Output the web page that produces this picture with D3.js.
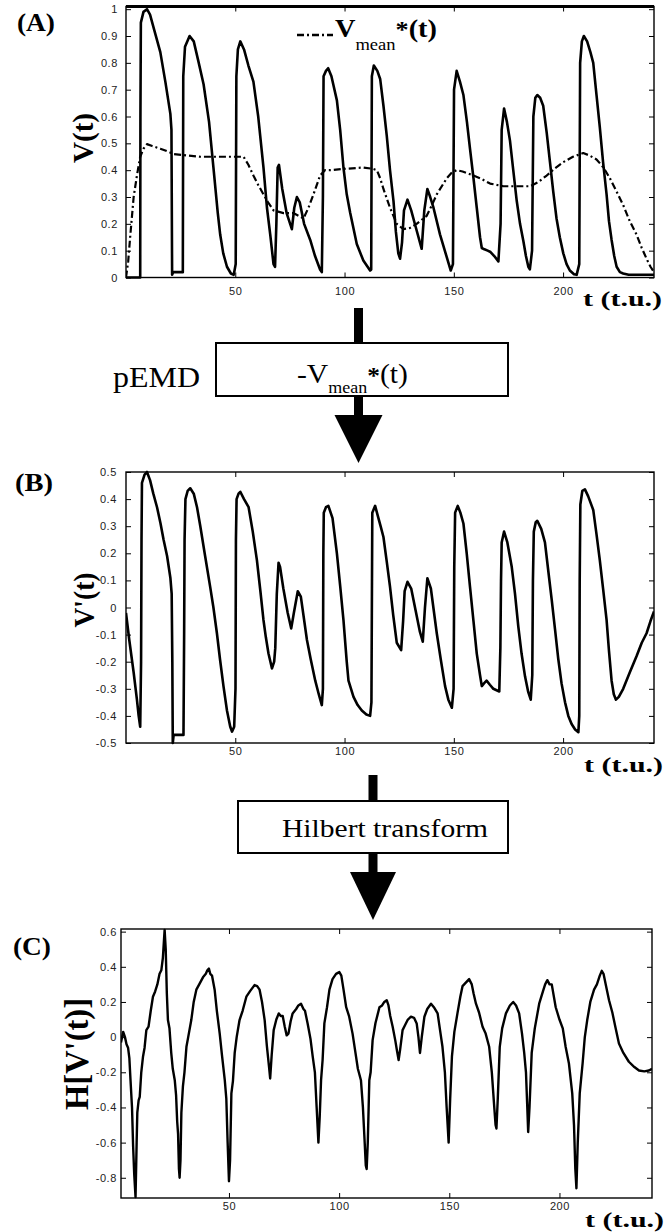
<!DOCTYPE html>
<html><head><meta charset="utf-8">
<script src="https://cdn.jsdelivr.net/npm/d3@7"></script>
<style>body{margin:0;background:#fff}svg{display:block}</style>
</head><body>
<svg id="c" width="672" height="1232"></svg>
<script>
// ---------- DATA ----------
const xTicks = [50, 100, 150, 200];
const xTickLabels = ["50", "100", "150", "200"];

const yTicksA = [0, 0.1, 0.2, 0.3, 0.4, 0.5, 0.6, 0.7, 0.8, 0.9, 1];
const yTickLabelsA = ["0", "0.1", "0.2", "0.3", "0.4", "0.5", "0.6", "0.7", "0.8", "0.9", "1"];
const yTicksB = [-0.5, -0.4, -0.3, -0.2, -0.1, 0, 0.1, 0.2, 0.3, 0.4, 0.5];
const yTickLabelsB = ["-0.5", "-0.4", "-0.3", "-0.2", "-0.1", "0", "0.1", "0.2", "0.3", "0.4", "0.5"];
const yTicksC = [-0.8, -0.6, -0.4, -0.2, 0, 0.2, 0.4, 0.6];
const yTickLabelsC = ["-0.8", "-0.6", "-0.4", "-0.2", "0", "0.2", "0.4", "0.6"];

// Panel A: V(t)
const tA = [0,6.5,6.6,6.8,8,9.6,11,13,15.7,18,20.3,20.8,21.1,21.6,26,26.2,27,29.1,31,33,35.5,38,40,42,43.1,44.5,46.2,48,49.3,50.2,50.5,51.2,52.3,54,56,58.3,60.5,62.9,64.5,66,67.5,68.2,68.8,69.4,70,71.5,73.5,75.9,77,78.2,79.5,81.5,84.3,86.5,88.8,89.6,90.1,90.4,91.5,92.5,94,96.5,98,99.5,101,102.6,105.6,108.6,111.7,112.2,112.5,113.4,115,116.3,117.8,119.3,120.8,122.4,123.5,124.6,125.4,126.3,127.2,128.8,130.5,132.5,135.3,136.5,137.9,139.2,140.7,143.7,146.8,148.6,149.6,150.1,151.3,152.8,154.4,156,157.4,159,160.5,162,162.8,164,165.5,166.8,168.5,170.4,171.4,171.9,173,174.3,175.7,177.2,178.8,180.3,181.8,183,184.1,184.8,185.8,186.4,187.3,188.2,189.5,190.9,192.5,194,195.5,197,198.5,200.1,201.6,203.1,205,206.2,207.4,207.8,208.6,209.5,211,212.5,213.8,215.3,216.8,218.3,219.9,221,222.2,223.4,224.5,226,227.5,230,241.6];
const vA = [0,0,0.6,0.95,0.99,1.0,0.98,0.92,0.84,0.73,0.61,0.55,0.01,0.02,0.02,0.75,0.86,0.90,0.88,0.81,0.72,0.58,0.41,0.24,0.16,0.09,0.04,0.015,0.01,0.05,0.75,0.85,0.88,0.85,0.79,0.73,0.6,0.41,0.26,0.16,0.05,0.04,0.2,0.41,0.42,0.33,0.24,0.18,0.26,0.30,0.28,0.2,0.14,0.08,0.03,0.02,0.3,0.75,0.77,0.78,0.75,0.66,0.55,0.41,0.31,0.24,0.125,0.063,0.026,0.03,0.75,0.79,0.77,0.74,0.64,0.53,0.4,0.285,0.17,0.09,0.07,0.13,0.25,0.29,0.25,0.19,0.107,0.25,0.33,0.3,0.26,0.16,0.075,0.026,0.05,0.7,0.77,0.73,0.68,0.58,0.48,0.37,0.26,0.15,0.11,0.105,0.1,0.095,0.08,0.06,0.2,0.55,0.63,0.58,0.51,0.4,0.285,0.2,0.137,0.08,0.04,0.03,0.1,0.6,0.67,0.68,0.67,0.64,0.54,0.43,0.32,0.22,0.15,0.09,0.05,0.026,0.012,0.01,0.05,0.8,0.88,0.9,0.88,0.84,0.80,0.68,0.56,0.43,0.31,0.21,0.14,0.08,0.04,0.02,0.015,0.01,0.01];

// Panel A: Vmean*(t)
const tMean = [0,1,2,3.5,5,6.5,8,9.6,12,15.7,19,21.8,28,34,42,49.2,53.8,56,58.3,60.5,62.9,65,67.5,72.1,76.6,79,81.2,83.5,85.8,88.8,91,93.4,100,108.6,113,114.8,116.3,117.8,120.8,123.9,126.9,130,133,137.6,140,142.2,146.8,149,151.3,154,157.4,162,166.6,172.7,178,184.9,188.5,192.5,196,200.1,204.5,209.2,212,215.3,218.5,221.4,224.5,227.5,230.5,233.6,236,238.2,240,241.6];
const vMean = [0,0.06,0.16,0.3,0.38,0.45,0.48,0.497,0.49,0.48,0.47,0.46,0.455,0.45,0.45,0.45,0.45,0.42,0.38,0.345,0.31,0.28,0.25,0.24,0.24,0.23,0.22,0.26,0.31,0.38,0.40,0.40,0.405,0.41,0.405,0.40,0.37,0.33,0.26,0.2,0.18,0.185,0.2,0.23,0.27,0.31,0.37,0.39,0.40,0.395,0.385,0.37,0.35,0.34,0.34,0.34,0.355,0.38,0.405,0.43,0.45,0.464,0.455,0.44,0.41,0.37,0.32,0.27,0.21,0.16,0.11,0.07,0.04,0.02];

// Panel B: V'(t)
const tB = [0,1.5,3.5,5,5.8,6.5,6.9,7.1,7.3,8.5,9.6,11,12.5,14.2,15.8,17.2,18.8,20.3,20.9,21.2,21.4,21.8,26.3,26.6,26.8,27.2,28.2,29.4,31,32.5,34,36.2,38.5,40,41.6,43,44.6,46.2,47.7,48.5,49.5,50.1,50.3,50.6,51.5,52.3,54,56.1,58,59.9,61.5,62.9,64,65.2,66.8,67.8,68.3,69,69.8,70.5,72,74,75.6,76.8,78.6,80,82.8,84.5,86.6,88.2,89.6,90.1,90.3,90.5,91.5,92.6,94.5,96.5,98,99.5,101,101.8,104.1,106,107.9,110,111.7,112.3,112.5,112.7,114,115.5,116.5,117.8,119.3,120.8,122.3,123.9,125.9,126.8,127.5,128.8,130.5,132.5,134.5,135.8,136.8,137.9,139.5,142.2,144,146,147.5,149.1,149.9,150.2,150.6,151.8,153,154.4,155.9,157.4,159,160.5,162,162.8,163.8,165,166.5,168.1,170.8,171.3,171.6,171.9,173,174.5,176.5,178,179.5,181,182.6,184,185.2,185.9,186.2,186.6,187.5,188.2,190,191.7,193.3,194.8,196.3,197.8,199.3,200.9,202.4,203.9,205.5,207,207.4,207.6,207.9,208.8,210,211.5,213.8,215.3,216.8,218.3,219.9,221,222.2,223.2,224.2,225.5,227.5,230.5,233.6,236,238.2,240,241.6];
const vB = [-0.02,-0.12,-0.24,-0.34,-0.40,-0.44,-0.2,0.25,0.46,0.49,0.50,0.47,0.42,0.37,0.31,0.25,0.19,0.11,0.05,-0.2,-0.5,-0.47,-0.47,-0.1,0.25,0.4,0.43,0.44,0.42,0.37,0.30,0.19,0.077,0.0,-0.095,-0.19,-0.29,-0.38,-0.44,-0.458,-0.44,-0.3,0.25,0.4,0.42,0.427,0.40,0.37,0.28,0.175,0.06,-0.046,-0.11,-0.17,-0.225,-0.2,-0.15,0.05,0.165,0.15,0.07,-0.02,-0.077,-0.02,0.06,0.04,-0.12,-0.19,-0.27,-0.32,-0.36,-0.3,0.2,0.35,0.37,0.375,0.33,0.2,0.08,-0.046,-0.2,-0.27,-0.33,-0.36,-0.38,-0.395,-0.40,-0.35,0.0,0.35,0.375,0.33,0.3,0.26,0.17,0.077,-0.03,-0.13,-0.157,-0.05,0.06,0.095,0.07,-0.01,-0.09,-0.126,0.0,0.108,0.07,-0.095,-0.19,-0.29,-0.34,-0.37,-0.3,0.15,0.35,0.375,0.35,0.31,0.2,0.077,-0.05,-0.17,-0.25,-0.29,-0.28,-0.27,-0.285,-0.30,-0.31,-0.15,0.1,0.24,0.28,0.24,0.15,0.05,-0.07,-0.17,-0.255,-0.31,-0.34,-0.25,0.1,0.28,0.315,0.32,0.29,0.24,0.13,0.028,-0.08,-0.19,-0.28,-0.35,-0.4,-0.43,-0.45,-0.46,-0.4,0.1,0.38,0.43,0.436,0.41,0.36,0.27,0.175,0.07,-0.046,-0.16,-0.27,-0.32,-0.34,-0.33,-0.30,-0.24,-0.18,-0.13,-0.095,-0.05,-0.015];

// Panel C: H[V'(t)]
const tC = [1,1.5,2,2.8,3.5,4.2,4.8,5.3,6,6.5,7,7.6,8.1,8.4,9,9.5,10.2,11,11.7,12.5,13.5,14.5,15.5,16.5,17.5,18.5,19.3,20,20.5,20.8,21.3,21.8,22.3,23,23.8,24.5,25.4,26,26.5,26.9,27.3,27.6,28,28.4,29.1,29.8,30.7,31.5,32.9,34,35.2,36.5,38.2,39.5,40.2,40.9,41.5,42.3,43.5,44.5,45.8,46.8,48.1,48.8,49.4,50,50.5,51.1,51.8,52.6,53.5,54.8,56.2,57.9,59.5,61.6,62.8,63.9,65,66.2,67.2,68.2,68.7,69.4,70.3,71.5,72.6,73.5,74.4,75.3,76.2,77,78,78.9,80.5,81.5,82.7,83.8,84.5,85.7,87,88,89,89.8,90.6,91.2,91.8,92.5,93.3,94.5,95.6,97,98.6,100.1,101,102,103.2,104.5,106.1,107.3,108.5,109.9,110.8,111.6,112.1,112.5,113,113.7,114.3,115.2,116.5,118.3,119.5,120.5,121.6,122.4,123.2,124.3,125.5,126.3,127,127.7,128.8,130,131.2,132.6,134,135.2,136,136.7,137.5,138.7,140,141.7,143,144.7,145.8,146.9,148,148.8,149.7,150.4,151.2,152.3,153.7,155,156,157.5,159,160.2,161,162.1,163.5,165.1,166.5,168.1,169.3,170.3,171,171.4,172,172.9,174,175.7,177.5,179,180.3,181.7,183,184,184.8,185.4,185.8,186.4,187.4,188.8,190.8,192.5,193.5,194.5,195.5,196.5,198.3,200,201.5,202.8,204.3,205.8,206.6,207.2,207.7,208.3,209.2,210.5,211.5,212.6,214,215.7,217,218.3,219.2,220,221,222.5,224,225.5,227,229,231.5,234,236.1,238.5,240.6,242];
const vC = [-0.03,0.0,0.03,0.0,-0.04,-0.06,-0.12,-0.24,-0.4,-0.62,-0.78,-0.91,-0.6,-0.43,-0.36,-0.34,-0.2,-0.11,-0.06,0.04,0.06,0.15,0.23,0.26,0.3,0.36,0.38,0.45,0.55,0.61,0.5,0.25,0.097,0.05,-0.09,-0.18,-0.245,-0.33,-0.48,-0.55,-0.75,-0.80,-0.7,-0.43,-0.28,-0.2,-0.055,0.0,0.097,0.2,0.27,0.3,0.34,0.36,0.38,0.39,0.36,0.35,0.27,0.15,0.02,-0.1,-0.245,-0.35,-0.6,-0.82,-0.7,-0.32,-0.25,-0.09,0.0,0.097,0.15,0.23,0.26,0.296,0.29,0.27,0.2,0.097,-0.05,-0.17,-0.235,-0.1,0.04,0.1,0.135,0.12,0.12,0.06,0.01,0.02,0.09,0.135,0.16,0.18,0.19,0.16,0.15,0.078,-0.01,-0.11,-0.2,-0.4,-0.6,-0.45,-0.245,-0.13,0.078,0.17,0.27,0.33,0.36,0.37,0.35,0.27,0.17,0.12,0.02,-0.08,-0.18,-0.245,-0.4,-0.6,-0.73,-0.75,-0.6,-0.245,-0.2,-0.017,0.08,0.17,0.18,0.2,0.21,0.18,0.12,0.059,-0.02,-0.08,-0.13,-0.07,0.04,0.07,0.1,0.116,0.11,0.078,0.0,-0.09,0.0,0.116,0.16,0.19,0.17,0.135,0.04,-0.055,-0.2,-0.4,-0.6,-0.35,-0.11,0.03,0.135,0.23,0.29,0.31,0.33,0.3,0.25,0.19,0.14,0.059,0.02,-0.055,-0.2,-0.38,-0.5,-0.52,-0.35,-0.055,0.05,0.135,0.18,0.2,0.18,0.135,0.02,-0.09,-0.2,-0.4,-0.54,-0.4,-0.09,0.05,0.19,0.26,0.3,0.324,0.3,0.3,0.17,0.1,0.05,-0.055,-0.15,-0.32,-0.5,-0.75,-0.86,-0.6,-0.32,-0.15,0.0,0.097,0.2,0.27,0.3,0.35,0.377,0.36,0.3,0.21,0.14,0.05,-0.036,-0.09,-0.14,-0.17,-0.19,-0.195,-0.19,-0.18];

// ---------- DRAW ----------
const svg = d3.select('#c');
svg.append('rect').attr('width', 672).attr('height', 1232).attr('fill', '#fff');
const SERIF = "'Liberation Serif','Times New Roman',serif";
const SANS = "'Liberation Sans',Arial,sans-serif";

function panel(o) {
  const x = d3.scaleLinear().domain(o.xd).range([o.l, o.r]);
  const y = d3.scaleLinear().domain(o.yd).range([o.b, o.t]);
  const g = svg.append('g');
  const cid = 'clip' + o.name;
  svg.append('clipPath').attr('id', cid).append('rect')
    .attr('x', o.l).attr('y', o.t - 3).attr('width', o.r - o.l).attr('height', o.b - o.t + 6);

  // axes (ticks inside)
  const styleAxis = sel => {
    sel.select('.domain').remove();
    sel.selectAll('.tick line').attr('stroke', '#000').attr('stroke-width', 1);
    sel.attr('font-family', SANS).attr('font-size', 11);
    sel.selectAll('text').attr('fill', '#222').style('letter-spacing', '0.6px');
  };
  g.append('g').attr('transform', `translate(0,${o.b})`)
    .call(d3.axisBottom(x).tickValues(xTicks).tickFormat((d, i) => xTickLabels[i]).tickSize(-5).tickPadding(o.xpad))
    .call(styleAxis);
  g.append('g').attr('transform', `translate(0,${o.t})`)
    .call(d3.axisTop(x).tickValues(xTicks).tickFormat('').tickSize(-5))
    .call(styleAxis);
  g.append('g').attr('transform', `translate(${o.l},0)`)
    .call(d3.axisLeft(y).tickValues(o.yTicks).tickFormat((d, i) => o.yLabels[i]).tickSize(-5).tickPadding(o.ypad))
    .call(styleAxis);
  g.append('g').attr('transform', `translate(${o.r},0)`)
    .call(d3.axisRight(y).tickValues(o.yTicks).tickFormat('').tickSize(-5))
    .call(styleAxis);

  o.series.forEach(s => {
    const line = d3.line().x((d, i) => x(s.t[i])).y(d => y(d));
    g.append('path').datum(s.v).attr('d', line)
      .attr('fill', 'none').attr('stroke', '#000').attr('stroke-width', s.w)
      .attr('stroke-dasharray', s.dash || null)
      .attr('stroke-linejoin', 'round').attr('clip-path', `url(#${cid})`);
  });

  g.append('rect').attr('x', o.l).attr('y', o.t).attr('width', o.r - o.l).attr('height', o.b - o.t)
    .attr('fill', 'none').attr('stroke', '#000').attr('stroke-width', 1.4);
  if (o.thickTop) {
    g.append('line').attr('x1', o.l).attr('x2', o.r).attr('y1', o.t).attr('y2', o.t)
      .attr('stroke', '#000').attr('stroke-width', 3);
  }

  // panel letter
  svg.append('text').attr('x', o.letterX).attr('y', o.letterY).text(o.letter)
    .attr('font-family', SERIF).attr('font-weight', 'bold').attr('font-size', 25)
    .attr('textLength', 38).attr('lengthAdjust', 'spacingAndGlyphs');
  // y label
  svg.append('text').attr('transform', `translate(${o.ylx},${o.lyc}) rotate(-90)`)
    .attr('text-anchor', 'middle').text(o.ylabel)
    .attr('font-family', SERIF).attr('font-weight', 'bold').attr('font-size', o.ylfs)
    .attr('textLength', o.yllen).attr('lengthAdjust', 'spacingAndGlyphs');
  // x label
  svg.append('text').attr('x', o.xlx).attr('y', o.xly).text('t (t.u.)')
    .attr('font-family', SERIF).attr('font-weight', 'bold').attr('font-size', 22)
    .attr('textLength', 79).attr('lengthAdjust', 'spacingAndGlyphs');
  return {x, y};
}

panel({name: 'A', l: 126, r: 654, t: 6.5, b: 277.5, xd: [0, 241.6], yd: [0, 1.01],
  yTicks: yTicksA, yLabels: yTickLabelsA, xpad: 10, ypad: 8, thickTop: true,
  series: [{t: tA, v: vA, w: 2.6}, {t: tMean, v: vMean, w: 2.2, dash: '7,3,2,3'}],
  letter: '(A)', letterX: 17, letterY: 31, ylabel: 'V(t)', ylx: 93, lyc: 138, ylfs: 30, yllen: 50,
  xlx: 583, xly: 306});

panel({name: 'B', l: 126, r: 654, t: 472, b: 743, xd: [0, 241.6], yd: [-0.5, 0.5],
  yTicks: yTicksB, yLabels: yTickLabelsB, xpad: 4, ypad: 9,
  series: [{t: tB, v: vB, w: 2.6}],
  letter: '(B)', letterX: 15, letterY: 491, ylabel: "V'(t)", ylx: 94, lyc: 600, ylfs: 30, yllen: 55,
  xlx: 584, xly: 772});

panel({name: 'C', l: 121, r: 652, t: 929, b: 1198, xd: [1, 242], yd: [-0.915, 0.615],
  yTicks: yTicksC, yLabels: yTickLabelsC, xpad: 4, ypad: 4,
  series: [{t: tC, v: vC, w: 2.4}],
  letter: '(C)', letterX: 13, letterY: 955, ylabel: "H[V'(t)]", ylx: 88, lyc: 1054, ylfs: 33, yllen: 112,
  xlx: 585, xly: 1227});

// legend in panel A
svg.append('line').attr('x1', 297).attr('x2', 333).attr('y1', 35).attr('y2', 35)
  .attr('stroke', '#000').attr('stroke-width', 2.4).attr('stroke-dasharray', '7,3,2,3');
const lg = svg.append('text').attr('x', 335).attr('y', 37).attr('font-family', SERIF).attr('font-weight', 'bold')
  .attr('textLength', 102).attr('lengthAdjust', 'spacingAndGlyphs');
lg.append('tspan').attr('font-size', 26).text('V');
lg.append('tspan').attr('font-size', 17).attr('font-weight', 'normal').attr('dy', 13).text('mean');
lg.append('tspan').attr('font-size', 24).attr('dy', -13).text('*');
lg.append('tspan').attr('font-size', 26).text('(t)');

// flow arrows
function flow(cx, stemTop, boxL, boxR, boxT, boxB, triT, triHalf, tip) {
  svg.append('rect').attr('x', cx - 4.5).attr('y', stemTop).attr('width', 9).attr('height', triT - stemTop + 2)
    .attr('fill', '#000');
  svg.append('rect').attr('x', boxL).attr('y', boxT).attr('width', boxR - boxL).attr('height', boxB - boxT)
    .attr('fill', '#fff').attr('stroke', '#000').attr('stroke-width', 2);
  svg.append('path').attr('d', `M${cx - triHalf},${triT}L${cx + triHalf},${triT}L${cx},${tip}Z`).attr('fill', '#000');
}
flow(358.5, 308, 216, 508, 343, 396, 415, 24, 463);
flow(373, 775, 238, 508, 801, 853, 872, 23, 920);

svg.append('text').attr('x', 113).attr('y', 387).text('pEMD')
  .attr('font-family', SERIF).attr('font-size', 30).attr('textLength', 87).attr('lengthAdjust', 'spacingAndGlyphs');
const bx = svg.append('text').attr('x', 297).attr('y', 383).attr('font-family', SERIF)
  .attr('textLength', 111).attr('lengthAdjust', 'spacingAndGlyphs');
bx.append('tspan').attr('font-size', 28).text('-V');
bx.append('tspan').attr('font-size', 17).attr('dy', 10).text('mean');
bx.append('tspan').attr('font-size', 24).attr('font-weight', 'bold').attr('dy', -10).text('*');
bx.append('tspan').attr('font-size', 28).text('(t)');

svg.append('text').attr('x', 282).attr('y', 837).text('Hilbert transform')
  .attr('font-family', SERIF).attr('font-size', 26).attr('textLength', 206).attr('lengthAdjust', 'spacingAndGlyphs');
</script>
</body></html>
